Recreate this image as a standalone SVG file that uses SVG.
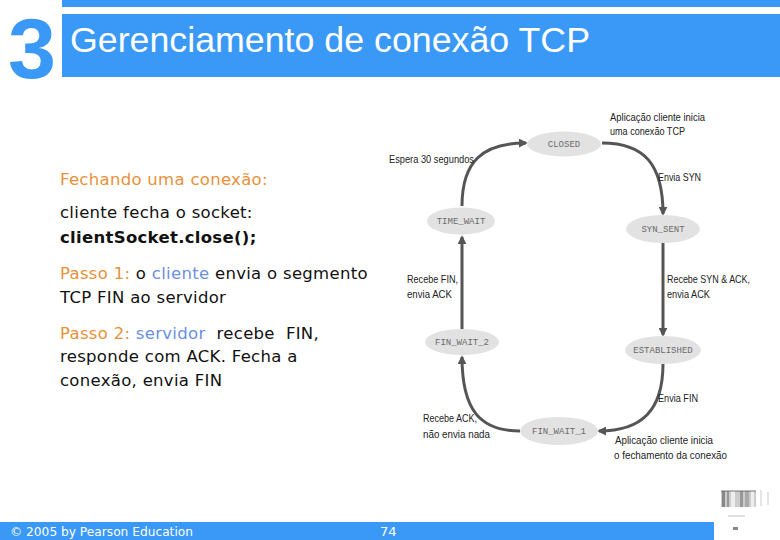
<svg xmlns="http://www.w3.org/2000/svg" width="780" height="540" viewBox="0 0 780 540">
<style>
.body{font-family:"DejaVu Sans","Liberation Sans",sans-serif;font-size:16.5px;letter-spacing:0.3px;fill:#111;white-space:pre}
.or{fill:#e8913a}
.bl{fill:#6b90df}
.lbl{font-family:"Liberation Sans",Arial,sans-serif;font-size:11.5px;fill:#222}
.st{font-family:"Liberation Mono","DejaVu Sans Mono",monospace;font-size:9px;fill:#6a6a6a;text-anchor:middle}
.node ellipse{fill:#e2e2e2}
.conn path{fill:none;stroke:#555;stroke-width:3}
</style>
<defs>
<marker id="ah" viewBox="0 0 10 10" refX="8" refY="5" markerWidth="3" markerHeight="3" orient="auto" markerUnits="strokeWidth">
<path d="M0,0 L10,5 L0,10 z" fill="#555"/>
</marker>
</defs>
<rect width="780" height="540" fill="#fff"/>
<!-- header -->
<rect x="62" y="0" width="718" height="7" fill="#3a99f7"/>
<rect x="62" y="14" width="718" height="63" fill="#3a99f7"/>
<text x="8" y="78" font-family="Liberation Sans,Arial,sans-serif" font-weight="bold" font-size="86" fill="#3a99f7" textLength="48" lengthAdjust="spacingAndGlyphs">3</text>
<text x="70" y="52" font-family="Liberation Sans,Arial,sans-serif" font-size="35" fill="#fff" textLength="520" lengthAdjust="spacingAndGlyphs">Gerenciamento de conexão TCP</text>
<!-- left text -->
<text class="body or" x="60" y="185">Fechando uma conexão:</text>
<text class="body" x="60" y="218">cliente fecha o socket:</text>
<text class="body" x="60" y="243" font-weight="bold">clientSocket.close();</text>
<text class="body" x="60" y="279"><tspan class="or">Passo 1:</tspan> o <tspan class="bl">cliente</tspan> envia o segmento</text>
<text class="body" x="60" y="303">TCP FIN ao servidor</text>
<text class="body" x="60" y="339"><tspan class="or">Passo 2:</tspan> <tspan class="bl">servidor</tspan>  recebe  FIN,</text>
<text class="body" x="60" y="362">responde com ACK. Fecha a</text>
<text class="body" x="60" y="386">conexão, envia FIN</text>
<!-- connectors -->
<g id="connectors" class="conn">
<path d="M462 206 C462 162 482 143 526 143" marker-end="url(#ah)"/>
<path d="M602 143 C645 143 663 165 663 214" marker-end="url(#ah)"/>
<path d="M663 243 L663 335" marker-end="url(#ah)"/>
<path d="M663 364 C663 410 642 431 599 431" marker-end="url(#ah)"/>
<path d="M520 431 C480 431 462 410 462 357" marker-end="url(#ah)"/>
<path d="M462 329 L462 237" marker-end="url(#ah)"/>
</g>
<!-- nodes -->
<g id="closed" class="node"><ellipse cx="564" cy="144" rx="37" ry="12.5"/><text class="st" x="564" y="147">CLOSED</text></g>
<g id="time_wait" class="node"><ellipse cx="461" cy="221" rx="34" ry="13.5"/><text class="st" x="461" y="224">TIME_WAIT</text></g>
<g id="syn_sent" class="node"><ellipse cx="663" cy="229" rx="37" ry="14"/><text class="st" x="663" y="232">SYN_SENT</text></g>
<g id="fin_wait_2" class="node"><ellipse cx="462" cy="342" rx="37" ry="13"/><text class="st" x="462" y="345">FIN_WAIT_2</text></g>
<g id="established" class="node"><ellipse cx="663" cy="350" rx="38" ry="14"/><text class="st" x="663" y="353">ESTABLISHED</text></g>
<g id="fin_wait_1" class="node"><ellipse cx="559" cy="431" rx="39" ry="14"/><text class="st" x="559" y="434">FIN_WAIT_1</text></g>
<!-- edge labels -->
<text class="lbl" x="610" y="121" textLength="95" lengthAdjust="spacingAndGlyphs">Aplicação cliente inicia</text>
<text class="lbl" x="610" y="135" textLength="75" lengthAdjust="spacingAndGlyphs">uma conexão TCP</text>
<text class="lbl" x="389" y="163" textLength="85" lengthAdjust="spacingAndGlyphs">Espera 30 segundos</text>
<text class="lbl" x="658" y="181" textLength="43" lengthAdjust="spacingAndGlyphs">Envia SYN</text>
<text class="lbl" x="407" y="283" textLength="51" lengthAdjust="spacingAndGlyphs">Recebe FIN,</text>
<text class="lbl" x="407" y="298" textLength="45" lengthAdjust="spacingAndGlyphs">envia ACK</text>
<text class="lbl" x="667" y="283" textLength="83" lengthAdjust="spacingAndGlyphs">Recebe SYN &amp; ACK,</text>
<text class="lbl" x="667" y="298" textLength="43" lengthAdjust="spacingAndGlyphs">envia ACK</text>
<text class="lbl" x="658" y="402" textLength="40" lengthAdjust="spacingAndGlyphs">Envia FIN</text>
<text class="lbl" x="423" y="422" textLength="54" lengthAdjust="spacingAndGlyphs">Recebe ACK,</text>
<text class="lbl" x="423" y="438" textLength="67" lengthAdjust="spacingAndGlyphs">não envia nada</text>
<text class="lbl" x="615" y="444" textLength="98" lengthAdjust="spacingAndGlyphs">Aplicação cliente inicia</text>
<text class="lbl" x="614" y="459" textLength="113" lengthAdjust="spacingAndGlyphs">o fechamento da conexão</text>
<!-- footer -->
<rect x="0" y="522" width="714" height="18" fill="#3a99f7"/>
<text x="10" y="536" font-family="DejaVu Sans,sans-serif" font-size="13" fill="#fff" textLength="183" lengthAdjust="spacingAndGlyphs">© 2005 by Pearson Education</text>
<text x="380" y="536" font-family="DejaVu Sans,sans-serif" font-size="13" fill="#fff">74</text>
<!-- thumbnail -->
<g id="thumb">
<rect x="721" y="491" width="35" height="16" fill="#ccc"/>
<rect x="722" y="491" width="3" height="16" fill="#888"/>
<rect x="727" y="491" width="2" height="16" fill="#999"/>
<rect x="731" y="491" width="4" height="16" fill="#eee"/>
<rect x="740" y="491" width="3" height="16" fill="#999"/>
<rect x="745" y="491" width="4" height="16" fill="#aaa"/>
<rect x="751" y="491" width="3" height="16" fill="#eee"/>
<line x1="721" y1="491" x2="756" y2="491" stroke="#555" stroke-width="0.8"/>
<line x1="728" y1="516" x2="745" y2="516" stroke="#999" stroke-width="0.6"/>
<line x1="761" y1="490" x2="761" y2="506" stroke="#aaa" stroke-width="0.6"/>
<line x1="768" y1="492" x2="768" y2="505" stroke="#aaa" stroke-width="0.6"/>
<rect x="733" y="527" width="5" height="3" fill="#888"/>
</g>
</svg>
